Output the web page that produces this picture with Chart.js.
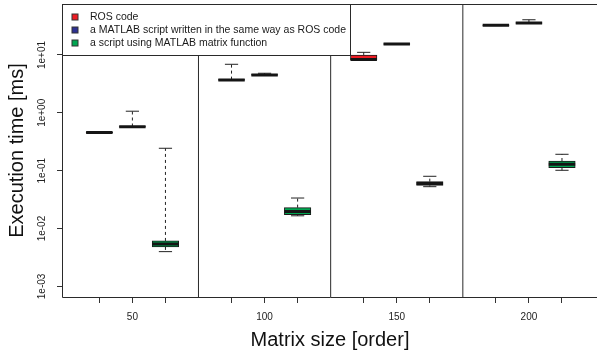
<!DOCTYPE html>
<html><head><meta charset="utf-8">
<script src="https://cdn.jsdelivr.net/npm/chart.js@4/dist/chart.umd.min.js"></script>
<style>html,body{margin:0;padding:0;background:#fff}#wrap{width:597px;height:354px}</style>
</head><body><div id="wrap"><canvas id="c" width="597" height="354"></canvas></div>
<script>
const categories = ['50', '100', '150', '200'];
const seriesNames = ['ROS code', 'a MATLAB script written in the same way as ROS code', 'a script using MATLAB matrix function'];
const seriesColors = ['#ED1C24', '#2E3192', '#00A651'];
// each entry: [lower whisker, Q1, median, Q3, upper whisker] (ms), one per category
const rosStats = [
  [0.452, 0.455, 0.457, 0.460, 0.462],
  [3.68, 3.68, 3.71, 3.75, 6.9],
  [8.2, 8.2, 8.35, 10.0, 11.1],
  [32.2, 32.3, 32.5, 32.7, 32.8]
];
const loopStats = [
  [0.565, 0.568, 0.574, 0.580, 1.066],
  [4.45, 4.48, 4.52, 4.56, 4.83],
  [15.3, 15.4, 15.5, 15.6, 15.7],
  [35.2, 35.3, 35.6, 35.9, 40.6]
];
const matrixStats = [
  [0.00399, 0.00481, 0.00542, 0.00611, 0.244],
  [0.0166, 0.0174, 0.0197, 0.0230, 0.0337],
  [0.0529, 0.0557, 0.0598, 0.0646, 0.080],
  [0.1016, 0.1127, 0.129, 0.147, 0.192]
];
const yTickValues = [0.001, 0.01, 0.1, 1, 10];
const yTickLabels = ['1e-03', '1e-02', '1e-01', '1e+00', '1e+01'];
const xTitle = 'Matrix size [order]';
const yTitle = 'Execution time [ms]';

const allStats = [rosStats, loopStats, matrixStats];
const groupSize = seriesNames.length + 1;
const pos = (c, s) => 1 + c * groupSize + s;
const yMin = 6.56e-4, yMax = 76;

const xTickValues = [], xTickLabels = [];
categories.forEach((cat, c) => seriesNames.forEach((n, s) => {
  xTickValues.push(pos(c, s));
  xTickLabels.push(s === 1 ? cat : '');
}));

const datasets = [];
allStats.forEach((st, s) => {
  datasets.push({
    type: 'bar', label: seriesNames[s],
    data: st.map((v, c) => ({x: pos(c, s), y: [v[1], v[3]]})),
    backgroundColor: seriesColors[s], borderColor: '#1a1a1a', borderWidth: 1,
    borderSkipped: false, barThickness: 26.5, grouped: false, order: 3
  });
});
const whiskerData = [], capData = [], medData = [], sepData = [];
allStats.forEach((st, s) => st.forEach((v, c) => {
  const x = pos(c, s);
  whiskerData.push({x, y: v[3]}, {x, y: v[4]}, {x, y: null}, {x, y: v[1]}, {x, y: v[0]}, {x, y: null});
  capData.push({x: x - 0.2, y: v[4]}, {x: x + 0.2, y: v[4]}, {x, y: null}, {x: x - 0.2, y: v[0]}, {x: x + 0.2, y: v[0]}, {x, y: null});
  medData.push({x: x - 0.4, y: v[2]}, {x: x + 0.4, y: v[2]}, {x, y: null});
}));
for (let c = 1; c < categories.length; c++) {
  const x = c * groupSize;
  sepData.push({x, y: yMin}, {x, y: yMax}, {x, y: null});
}
const lineBase = {type: 'line', pointRadius: 0, fill: false, spanGaps: false, borderCapStyle: 'butt'};
datasets.push(Object.assign({}, lineBase, {label: 'sep', data: sepData, borderColor: '#2a2a2a', borderWidth: 1, order: 6}));
datasets.push(Object.assign({}, lineBase, {label: 'whisker', data: whiskerData, borderColor: '#222', borderWidth: 1, borderDash: [3, 3], order: 4}));
datasets.push(Object.assign({}, lineBase, {label: 'cap', data: capData, borderColor: '#222', borderWidth: 1, order: 4}));
datasets.push(Object.assign({}, lineBase, {label: 'median', data: medData, borderColor: '#151515', borderWidth: 3, order: 1}));

const FONT = '"Liberation Sans", Arial, Helvetica, sans-serif';
Chart.defaults.font.family = FONT;
Chart.defaults.color = '#222';

const frameLegend = {
  id: 'frameLegend',
  afterDraw(chart) {
    const {ctx, chartArea: a} = chart;
    ctx.save();
    ctx.strokeStyle = '#2a2a2a'; ctx.lineWidth = 1;
    const L = Math.round(a.left) - 0.5, T = Math.round(a.top) + 0.5, B = Math.round(a.bottom) + 0.5;
    ctx.beginPath();
    ctx.moveTo(a.right + 2, T); ctx.lineTo(L, T); ctx.lineTo(L, B); ctx.lineTo(a.right + 2, B);
    ctx.stroke();
    ctx.font = '10.5px ' + FONT;
    const tw = Math.max(...seriesNames.map(n => ctx.measureText(n).width));
    const w = Math.round(27 + tw + 5), h = 51;
    ctx.fillStyle = '#fff'; ctx.fillRect(L, T, w, h); ctx.strokeRect(L, T, w, h);
    ctx.textBaseline = 'middle'; ctx.textAlign = 'left';
    seriesNames.forEach((n, i) => {
      const cy = Math.round(T + 12 + i * 13);
      ctx.fillStyle = seriesColors[i]; ctx.fillRect(L + 9.5, cy - 3, 6, 6);
      ctx.strokeStyle = '#333'; ctx.strokeRect(L + 9.5, cy - 3, 6, 6);
      ctx.fillStyle = '#1a1a1a'; ctx.fillText(n, L + 27.5, cy + 0.5);
    });
    ctx.restore();
  }
};

new Chart(document.getElementById('c'), {
  type: 'bar',
  data: {datasets},
  plugins: [frameLegend],
  options: {
    responsive: false, animation: false, devicePixelRatio: 1,
    layout: {padding: {top: 4, right: 0, bottom: 0, left: 0}},
    plugins: {legend: {display: false}, tooltip: {enabled: false}},
    scales: {
      x: {
        type: 'linear', min: -0.1, max: 16.06, offset: false,
        afterBuildTicks: s => { s.ticks = xTickValues.map(v => ({value: v})); },
        afterFit: s => { s.height = 57; s.paddingLeft = 0; s.paddingRight = 0; },
        ticks: {autoSkip: false, maxRotation: 0, minRotation: 0, padding: 8, font: {size: 10},
          color: '#222', callback: (v) => { const i = xTickValues.indexOf(v); return i >= 0 ? xTickLabels[i] : ''; }},
        grid: {drawOnChartArea: false, drawTicks: true, tickLength: 6, tickColor: '#333', offset: false},
        border: {display: false},
        title: {display: true, text: xTitle, font: {size: 20}, color: '#111', padding: {top: 0, bottom: 2}}
      },
      y: {
        type: 'logarithmic', min: yMin, max: yMax,
        afterBuildTicks: s => { s.ticks = yTickValues.map(v => ({value: v})); },
        afterFit: s => { s.width = 63; s.paddingTop = 0; s.paddingBottom = 0; },
        ticks: {autoSkip: false, minRotation: 90, maxRotation: 90, crossAlign: 'center', padding: 1,
          font: {size: 10}, color: '#222',
          callback: (v) => { const i = yTickValues.findIndex(t => Math.abs(Math.log10(t) - Math.log10(v)) < 1e-6); return i >= 0 ? yTickLabels[i] : ''; }},
        grid: {drawOnChartArea: false, drawTicks: true, tickLength: 6, tickColor: '#333'},
        border: {display: false},
        title: {display: true, text: yTitle, font: {size: 20}, color: '#111', padding: {top: 5, bottom: 0}}
      }
    }
  }
});
</script></body></html>
